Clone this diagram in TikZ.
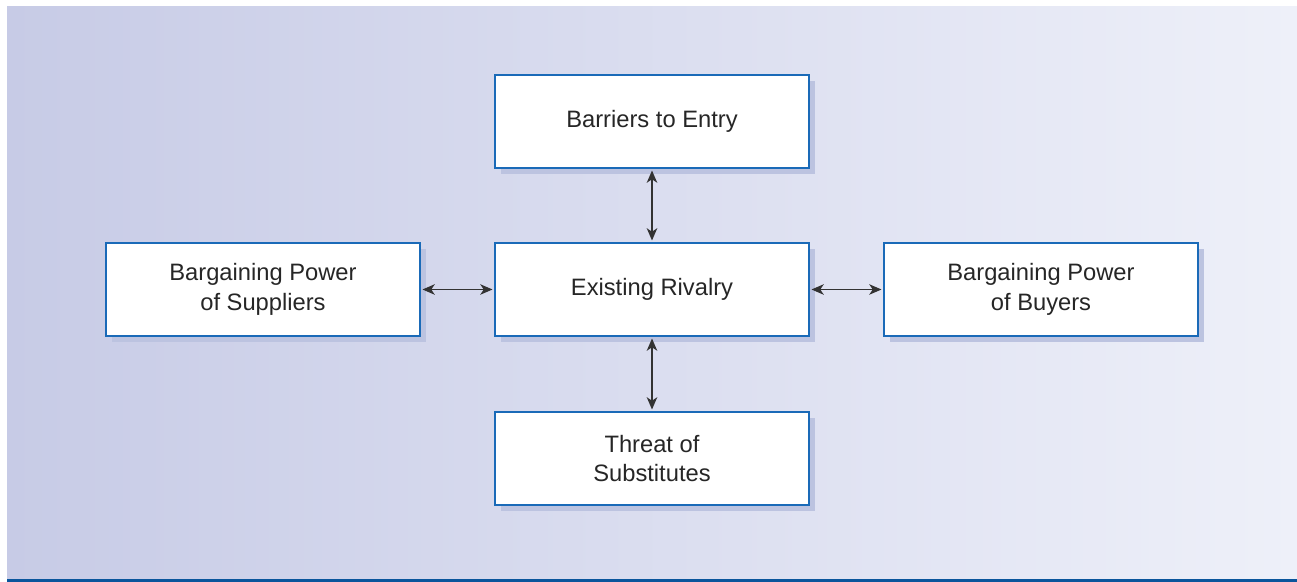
\documentclass[tikz,border=0pt]{standalone}
\usepackage{fontspec}
\setmainfont{Liberation Sans}
\usepackage{tikz}
\usetikzlibrary{arrows.meta,shadows}
\definecolor{bgleft}{HTML}{C7CBE6}
\definecolor{bgright}{HTML}{EEF0F9}
\definecolor{boxblue}{HTML}{1A6AB8}
\definecolor{shadowblue}{HTML}{BCC3E0}
\definecolor{linebase}{HTML}{0A559C}
\tikzset{force/.style={draw=boxblue, line width=0.9pt, fill=white, rectangle, align=center,
  minimum width=6.28cm, minimum height=1.86cm, inner sep=0pt, outer sep=0.05cm,
  font=\fontsize{13.5}{17}\selectfont, text=black!85,
  drop shadow={shadow xshift=0.12cm, shadow yshift=-0.12cm, fill=shadowblue, opacity=1}}}
\tikzset{link/.style={{Stealth[length=7pt,width=6pt,inset=2pt]}-{Stealth[length=7pt,width=6pt,inset=2pt]},
  line width=0.8pt, draw=black!80}}

\begin{document}
\begin{tikzpicture}
		\useasboundingbox (0,0) rectangle (25.94,-11.64);
		\shade[left color=bgleft, right color=bgright] (0.14,-0.14) rectangle (25.94,-11.58);
		\fill[linebase] (0.14,-11.58) rectangle (25.94,-11.64);
		
		\node[force] (entry) at (13.04,-2.43) {Barriers to Entry};
		\node[force] (rival) at (13.04,-5.79) {Existing Rivalry};
		\node[force] (suppl) at (5.26,-5.79) {Bargaining Power\\of Suppliers};
		\node[force] (buyer) at (20.82,-5.79) {Bargaining Power\\of Buyers};
		\node[force] (subst) at (13.04,-9.17) {Threat of\\Substitutes};
		
		\draw[link] (entry) -- (rival);
		\draw[link] (rival) -- (subst);
		\draw[link] (suppl) -- (rival);
		\draw[link] (rival) -- (buyer);
\end{tikzpicture}
\end{document}
